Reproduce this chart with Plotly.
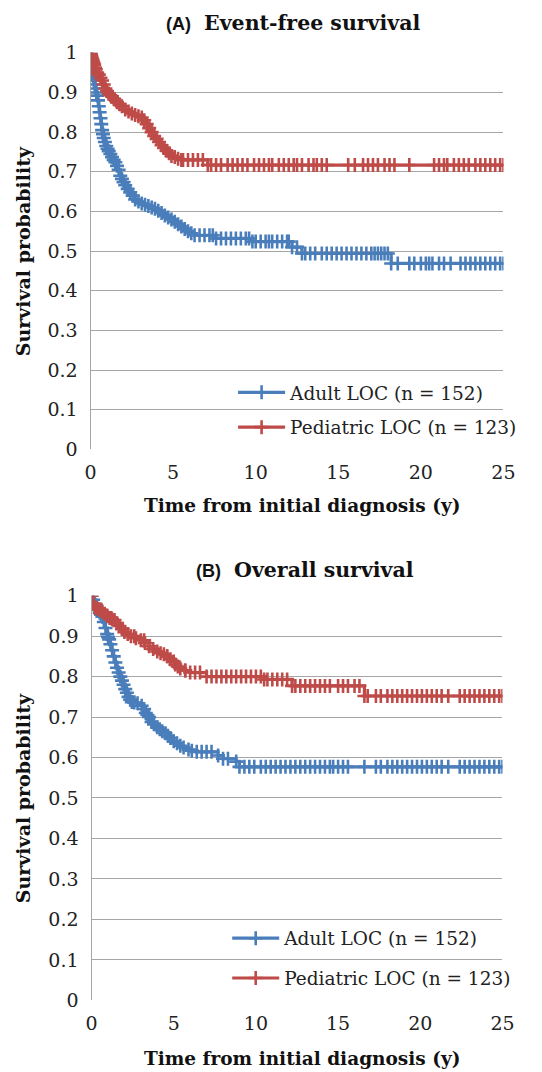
import numpy as np
import plotly.graph_objects as go

W, H = 542, 1072

# ---------------- DATA ----------------
# (A) Event-free survival — Kaplan-Meier step points
efs_adult_time = [0, 0.02, 0.05, 0.08, 0.12, 0.16, 0.2, 0.25, 0.3, 0.35, 0.4, 0.45, 0.5, 0.55, 0.6,
                  0.65, 0.7, 0.75, 0.8, 0.87, 0.95, 1.03, 1.1, 1.2, 1.3, 1.4, 1.5, 1.6, 1.7, 1.8,
                  1.9, 2.0, 2.1, 2.25, 2.4, 2.55, 2.7, 2.9, 3.1, 3.3, 3.5, 3.7, 3.9, 4.1, 4.3, 4.5,
                  4.7, 4.9, 5.1, 5.3, 5.5, 5.7, 5.9, 6.1, 6.3, 7.6, 9.8, 12.2, 12.8, 18.2]
efs_adult_surv = [1.0, 0.97, 0.955, 0.948, 0.944, 0.94, 0.93, 0.92, 0.91, 0.90, 0.892, 0.88, 0.865,
                  0.85, 0.835, 0.82, 0.805, 0.795, 0.785, 0.775, 0.765, 0.758, 0.752, 0.745, 0.737,
                  0.73, 0.724, 0.715, 0.705, 0.69, 0.682, 0.674, 0.666, 0.657, 0.648, 0.64, 0.63,
                  0.625, 0.62, 0.617, 0.614, 0.61, 0.607, 0.602, 0.596, 0.59, 0.585, 0.58, 0.574,
                  0.568, 0.562, 0.556, 0.55, 0.545, 0.54, 0.532, 0.524, 0.51, 0.494, 0.469]
efs_adult_censor = [6.6, 6.9, 7.2, 7.4, 7.9, 8.2, 8.5, 8.8, 9.1, 9.4, 9.6, 10.0, 10.3, 10.6, 10.8, 11.0,
                    11.3, 11.6, 11.9, 12.0, 12.5, 13.0, 13.3, 13.6, 14.0, 14.3, 14.6, 14.9, 15.2, 15.5,
                    15.8, 16.1, 16.4, 16.7, 17.0, 17.2, 17.4, 17.6, 17.8, 18.0, 18.6, 19.3, 19.6, 20.0,
                    20.3, 20.5, 20.7, 21.1, 21.4, 21.8, 22.4, 22.7, 23.0, 23.3, 23.6, 23.9, 24.2, 24.5, 24.8]

efs_ped_time = [0, 0.03, 0.06, 0.1, 0.14, 0.18, 0.22, 0.27, 0.32, 0.4, 0.5, 0.6, 0.7, 0.8, 0.9, 1.0,
                1.1, 1.2, 1.3, 1.45, 1.6, 1.75, 1.9, 2.1, 2.3, 2.5, 2.7, 2.9, 3.1, 3.25, 3.4, 3.55,
                3.7, 3.85, 4.0, 4.15, 4.3, 4.45, 4.6, 4.75, 4.9, 5.1, 5.3, 5.5, 7.1]
efs_ped_surv = [1.0, 0.995, 0.99, 0.985, 0.98, 0.975, 0.97, 0.963, 0.958, 0.95, 0.945, 0.937, 0.93,
                0.92, 0.91, 0.903, 0.897, 0.893, 0.89, 0.882, 0.875, 0.87, 0.865, 0.857, 0.852, 0.847,
                0.843, 0.84, 0.837, 0.83, 0.82, 0.81, 0.80, 0.79, 0.783, 0.775, 0.767, 0.76, 0.753,
                0.747, 0.74, 0.737, 0.733, 0.73, 0.717]
efs_ped_censor = [5.6, 5.9, 6.2, 6.5, 6.8, 7.3, 7.6, 7.9, 8.3, 8.6, 8.9, 9.2, 9.5, 9.9, 10.2, 10.5,
                  10.8, 11.0, 11.4, 11.7, 12.0, 12.3, 12.5, 12.8, 13.2, 13.5, 13.7, 14.0, 14.3, 15.6,
                  16.0, 16.5, 16.8, 17.1, 17.4, 17.8, 18.1, 18.4, 19.3, 20.8, 21.1, 21.4, 21.6, 22.0,
                  22.3, 22.6, 22.9, 23.3, 23.6, 23.9, 24.2, 24.5, 24.8]

# (B) Overall survival — Kaplan-Meier step points
os_adult_time = [0, 0.1, 0.2, 0.3, 0.4, 0.5, 0.58, 0.66, 0.75, 0.85, 0.95, 1.0, 1.07, 1.15, 1.25,
                 1.35, 1.45, 1.55, 1.65, 1.75, 1.85, 1.95, 2.05, 2.15, 2.25, 2.35, 2.45, 2.6, 2.8,
                 3.05, 3.2, 3.3, 3.4, 3.5, 3.65, 3.8, 4.0, 4.15, 4.3, 4.5, 4.65, 4.8, 5.0, 5.2, 5.4,
                 5.6, 5.9, 6.1, 6.4, 7.7, 8.0, 8.8, 9.0]
os_adult_surv = [1.0, 0.99, 0.98, 0.975, 0.965, 0.958, 0.953, 0.948, 0.935, 0.92, 0.905, 0.898, 0.892,
                 0.88, 0.865, 0.85, 0.835, 0.822, 0.81, 0.8, 0.79, 0.78, 0.769, 0.76, 0.75, 0.743,
                 0.737, 0.736, 0.734, 0.728, 0.72, 0.71, 0.705, 0.7, 0.688, 0.682, 0.675, 0.67,
                 0.665, 0.66, 0.654, 0.648, 0.64, 0.635, 0.629, 0.625, 0.62, 0.617, 0.614, 0.605,
                 0.597, 0.59, 0.577]
os_adult_censor = [6.7, 7.0, 7.3, 8.3, 9.3, 9.6, 9.9, 10.3, 10.6, 10.9, 11.2, 11.5, 11.8, 12.1, 12.4,
                   12.7, 13.0, 13.3, 13.6, 13.9, 14.2, 14.5, 14.7, 15.0, 15.3, 15.6, 16.6, 17.3, 17.6,
                   18.0, 18.3, 18.6, 18.9, 19.2, 19.5, 19.8, 20.1, 20.4, 20.7, 21.0, 21.3, 21.7, 22.4,
                   22.7, 23.0, 23.3, 23.6, 23.9, 24.2, 24.5, 24.8]

os_ped_time = [0, 0.1, 0.2, 0.35, 0.5, 0.65, 0.8, 0.95, 1.1, 1.25, 1.4, 1.55, 1.7, 1.85, 2.0, 2.2,
               2.4, 2.7, 3.0, 3.25, 3.5, 3.75, 4.0, 4.2, 4.4, 4.6, 4.8, 5.0, 5.1, 5.25, 5.4, 5.7,
               6.0, 7.0, 10.5, 12.2, 16.6]
os_ped_surv = [1.0, 0.98, 0.97, 0.968, 0.965, 0.96, 0.955, 0.95, 0.945, 0.942, 0.94, 0.932, 0.925,
               0.918, 0.91, 0.905, 0.90, 0.895, 0.89, 0.883, 0.875, 0.868, 0.862, 0.858, 0.855,
               0.85, 0.843, 0.837, 0.83, 0.825, 0.82, 0.815, 0.81, 0.80, 0.793, 0.777, 0.752]
os_ped_censor = [0.3, 0.6, 1.2, 1.9, 2.6, 3.2, 4.6, 5.7, 6.3, 6.6, 7.3, 7.6, 7.9, 8.2, 8.5, 8.8, 9.1,
                 9.4, 9.7, 10.0, 10.3, 10.7, 11.0, 11.3, 11.6, 11.9, 12.4, 12.7, 13.0, 13.3, 13.6,
                 13.9, 14.2, 14.5, 15.0, 15.3, 15.6, 16.0, 16.3, 16.8, 17.3, 17.6, 18.0, 18.3, 18.6,
                 18.9, 19.2, 19.5, 19.8, 20.1, 20.4, 20.7, 21.0, 21.3, 21.7, 22.4, 22.7, 23.0, 23.3,
                 23.6, 23.9, 24.2, 24.5, 24.8]

x_end = 25
x_ticks = [0, 5, 10, 15, 20, 25]
y_ticks = [0, 0.1, 0.2, 0.3, 0.4, 0.5, 0.6, 0.7, 0.8, 0.9, 1]
y_tick_text = ["0", "0.1", "0.2", "0.3", "0.4", "0.5", "0.6", "0.7", "0.8", "0.9", "1"]

label_adult = "Adult LOC (n = 152)"
label_ped = "Pediatric LOC (n = 123)"
title_a = ("(A)", "Event-free survival")
title_b = ("(B)", "Overall survival")
x_title = "Time from initial diagnosis (y)"
y_title = "Survival probability"

BLUE = "#4A7EBB"
RED = "#BE4B48"
SERIF = "DejaVu Serif"


def step_value(times, survs, t):
    idx = np.searchsorted(np.asarray(times), t, side="right") - 1
    return float(np.asarray(survs)[max(idx, 0)])


fig = go.Figure()


def add_curve(times, survs, censor, color, name, xa, ya, legend):
    ct = list(times)
    cs = list(survs)
    full_t = ct + [x_end]
    full_s = cs + [cs[-1]]
    fig.add_trace(go.Scatter(
        x=full_t, y=full_s, mode="lines+markers", line=dict(color=color, width=3.2, shape="hv"),
        marker=dict(symbol="cross-thin", size=10, line=dict(color=color, width=2.6)),
        name=name, xaxis=xa, yaxis=ya, legend=legend, showlegend=True,
    ))
    fig.add_trace(go.Scatter(
        x=list(censor), y=[step_value(ct, cs, t) for t in censor], mode="markers",
        marker=dict(symbol="cross-thin", size=10, line=dict(color=color, width=2.6)),
        xaxis=xa, yaxis=ya, showlegend=False, hoverinfo="skip",
    ))


add_curve(efs_adult_time, efs_adult_surv, efs_adult_censor, BLUE, label_adult, "x", "y", "legend")
add_curve(efs_ped_time, efs_ped_surv, efs_ped_censor, RED, label_ped, "x", "y", "legend2")
add_curve(os_adult_time, os_adult_surv, os_adult_censor, BLUE, label_adult, "x2", "y2", "legend3")
add_curve(os_ped_time, os_ped_surv, os_ped_censor, RED, label_ped, "x2", "y2", "legend4")

# the paper area lands at roughly x 2..535, y 8..1064 of the photographed page
PX0, PXW = 2.0, 533.0
PY0, PYH = 8.0, 1056.0


def px_x(p):
    return (p - PX0) / PXW


def px_y(p):
    return 1 - (p - PY0) / PYH


GRID = "#A6A6A6"
tickfont = dict(family=SERIF, size=19, color="#222222")

xcommon = dict(range=[0, 25], tickvals=x_ticks, showgrid=False, zeroline=False, showline=False,
               tickfont=tickfont, ticks="outside", ticklen=6, tickcolor="rgba(0,0,0,0)",
               fixedrange=True)
ycommon = dict(range=[0, 1.0], tickvals=y_ticks, ticktext=y_tick_text, showgrid=True,
               gridcolor=GRID, gridwidth=1.3, zeroline=False, showline=True, linecolor=GRID,
               linewidth=1.3, tickfont=tickfont, ticks="outside", ticklen=8,
               tickcolor="rgba(0,0,0,0)")

fig.update_layout(
    width=W, height=H, margin=dict(l=0, r=0, t=0, b=0),
    paper_bgcolor="white", plot_bgcolor="white",
    xaxis=dict(domain=[px_x(88), px_x(508)], anchor="y", **xcommon),
    yaxis=dict(domain=[px_y(449), px_y(50)], anchor="x", **ycommon),
    xaxis2=dict(domain=[px_x(89), px_x(507)], anchor="y2", **xcommon),
    yaxis2=dict(domain=[px_y(1003), px_y(596)], anchor="x2", **ycommon),
)

legfont = dict(family=SERIF, size=18.5, color="#222222")
for key, xp, yp in [("legend", 233, 392), ("legend2", 233, 427), ("legend3", 227, 941), ("legend4", 227, 981)]:
    fig.update_layout({key: dict(x=px_x(xp), y=px_y(yp), xanchor="left", yanchor="middle",
                                 bgcolor="rgba(0,0,0,0)", font=legfont, itemwidth=47,
                                 borderwidth=0)})

annots = []
for (lab, txt), cx, cy in [(title_a, 294, 20), (title_b, 306, 570)]:
    annots.append(dict(
        text=f"<span style='font-family:Arial;font-size:18px'><b>{lab}</b></span>  <b>{txt}</b>",
        x=px_x(cx), y=px_y(cy), xref="paper", yref="paper", showarrow=False,
        xanchor="center", yanchor="middle", font=dict(family=SERIF, size=20.5, color="#111111")))
for cy in [505, 1061]:
    annots.append(dict(text=f"<b>{x_title}</b>", x=px_x(303), y=px_y(cy), xref="paper", yref="paper",
                       showarrow=False, xanchor="center", yanchor="middle",
                       font=dict(family=SERIF, size=18.5, color="#111111")))
for cy in [250, 800]:
    annots.append(dict(text=f"<b>{y_title}</b>", x=px_x(19), y=px_y(cy), xref="paper", yref="paper",
                       showarrow=False, xanchor="center", yanchor="middle", textangle=-90,
                       font=dict(family=SERIF, size=19, color="#111111")))
fig.update_layout(annotations=annots)

fig.write_html("out.html", config={"displayModeBar": False},
               post_script="document.body.style.margin='0';document.body.style.overflow='hidden';")
